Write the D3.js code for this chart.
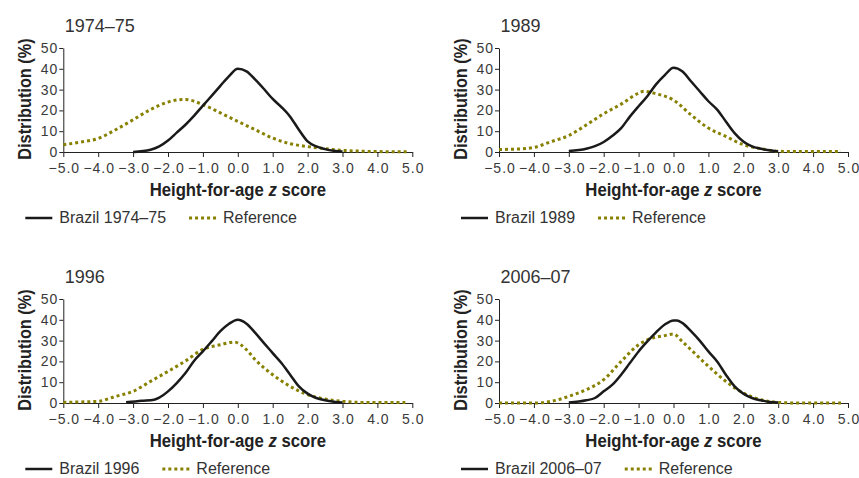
<!DOCTYPE html>
<html>
<head>
<meta charset="utf-8">
<script src="https://cdn.jsdelivr.net/npm/d3@7"></script>
<style>
  body { margin: 0; background: #fff; }
  .axis path, .axis line { stroke: #222; stroke-width: 1; }
</style>
</head>
<body>
<script>
// panel titles and legend labels
var titles = ["1974–75", "1989", "1996", "2006–07"];
var brazilLabels = ["Brazil 1974–75", "Brazil 1989", "Brazil 1996", "Brazil 2006–07"];

var zTicks = [-5, -4, -3, -2, -1, 0, 1, 2, 3, 4, 5];
var pctTicks = [0, 10, 20, 30, 40, 50];

// [z score, distribution %]
var brazil7475 = [[-3, 0], [-2.5, 1.1], [-2.25, 2.7], [-2, 5.5], [-1.75, 9.3], [-1.5, 13.1], [-1.25, 17.5], [-1, 22.3],
  [-0.75, 27], [-0.5, 31.8], [-0.25, 36.5], [0, 40], [0.25, 38.8], [0.5, 34.8], [0.75, 30.3], [1, 25.5],
  [1.25, 21.6], [1.5, 17], [1.75, 10.7], [2, 5.1], [2.25, 2.7], [2.5, 1.4], [2.75, 0.6], [3, 0.2]];
var ref7475 = [[-5, 3.5], [-4.5, 4.8], [-4, 6.5], [-3.5, 10.7], [-3, 15.5], [-2.5, 20.4], [-2, 24], [-1.6, 25.2],
  [-1.5, 25.2], [-1, 22.8], [-0.5, 18.8], [0, 14.7], [0.5, 10.7], [1, 6.7], [1.5, 4], [2, 2.6], [2.5, 1.6],
  [3, 0.8], [3.5, 0.4], [4, 0.2], [4.5, 0.1], [4.85, 0.1]];

var brazil1989 = [[-3, 0.5], [-2.5, 1.6], [-2.25, 2.8], [-2, 4.8], [-1.75, 7.8], [-1.5, 11.5], [-1.25, 17], [-1, 22],
  [-0.75, 26.8], [-0.5, 32.5], [-0.25, 37], [0, 40.5], [0.25, 38.8], [0.5, 34], [0.75, 29.2], [1, 24.4],
  [1.25, 20.4], [1.5, 14.7], [1.75, 9.1], [2, 5.1], [2.25, 2.7], [2.5, 1.6], [2.75, 0.8], [3, 0.2]];
var ref1989 = [[-5, 1.2], [-4.5, 1.4], [-4, 2.2], [-3.5, 5], [-3, 7.9], [-2.5, 13], [-2, 18.4], [-1.5, 23],
  [-1, 28.3], [-0.85, 29.2], [-0.5, 28], [0, 25], [0.5, 17.9], [1, 11.5], [1.5, 7.5], [2, 3.5], [2.5, 1.6],
  [3, 0.4], [3.5, 0.2], [4, 0.2], [4.5, 0.2], [4.8, 0.2]];

var brazil1996 = [[-3.2, 0.3], [-2.75, 1.1], [-2.4, 1.6], [-2.25, 2.6], [-2, 5.6], [-1.75, 9.6], [-1.5, 14.4],
  [-1.25, 20.3], [-1, 24.8], [-0.75, 29.6], [-0.5, 34.5], [-0.25, 38.1], [0, 40], [0.25, 38.1], [0.5, 33.7],
  [0.75, 28.8], [1, 24], [1.25, 19.2], [1.5, 13.6], [1.75, 8], [2, 4.5], [2.25, 2.4], [2.5, 1.3], [2.75, 0.6], [3, 0.2]];
var ref1996 = [[-5, 0.3], [-4.5, 0.5], [-4, 0.8], [-3.5, 3.2], [-3, 5.6], [-2.5, 10.4], [-2, 15.2], [-1.5, 20.2],
  [-1, 25.8], [-0.5, 28], [-0.1, 29.3], [0.25, 25.6], [0.5, 20.8], [1, 13.6], [1.5, 8], [2, 4], [2.5, 1.9],
  [3, 0.8], [3.5, 0.3], [4, 0.3], [4.5, 0.3], [4.8, 0.3]];

var brazil2006 = [[-3, 0.2], [-2.5, 1.3], [-2.25, 2.4], [-2, 5.6], [-1.75, 8.8], [-1.5, 13.6], [-1.25, 19.2], [-1, 24.8],
  [-0.75, 29.6], [-0.5, 34], [-0.25, 37.7], [0, 39.7], [0.1, 39.7], [0.25, 38.5], [0.5, 34.5], [0.75, 30],
  [1, 24.8], [1.25, 20], [1.5, 13.6], [1.75, 8], [2, 4.5], [2.25, 2.4], [2.5, 1.3], [2.75, 0.5], [3, 0.2]];
var ref2006 = [[-5, 0], [-4, 0], [-3.5, 0.8], [-3, 3.2], [-2.5, 6.4], [-2, 11.2], [-1.5, 20], [-1, 28],
  [-0.75, 30.4], [-0.5, 31.7], [-0.25, 32.4], [0, 33.2], [0.25, 29.6], [0.5, 25.6], [1, 17.6], [1.5, 10.4],
  [2, 4.8], [2.5, 1.6], [3, 0.3], [3.5, 0], [4, 0], [4.8, 0]];

var brazilSeries = [brazil7475, brazil1989, brazil1996, brazil2006];
var refSeries = [ref7475, ref1989, ref1996, ref2006];

var FONT = "'Liberation Sans', Arial, sans-serif";
var OLIVE = "#878000";

var cols = [63.3, 499];
var rows = [152, 403];
var plotW = 349, plotH = 104;

var svg = d3.select("body").append("svg")
    .attr("width", 859)
    .attr("height", 478);

titles.forEach(function (t, i) {
    var left = cols[i % 2];
    var base = rows[Math.floor(i / 2)];

    var x = d3.scaleLinear().domain([-5, 5]).range([left, left + plotW]);
    var y = d3.scaleLinear().domain([0, 50]).range([base, base - plotH]);

    var g = svg.append("g");

    // axes
    g.append("g")
        .attr("class", "axis")
        .attr("transform", "translate(0," + base + ")")
        .call(d3.axisBottom(x).tickValues(zTicks).tickFormat(d3.format(".1f")).tickSize(5).tickSizeOuter(0).tickPadding(6))
        .attr("font-family", FONT)
        .attr("font-size", 14)
        .selectAll("text")
            .attr("fill", "#3a3a3a")
            .attr("letter-spacing", 1)
            .attr("dx", 0.5);

    g.append("g")
        .attr("class", "axis")
        .attr("transform", "translate(" + left + ",0)")
        .call(d3.axisLeft(y).tickValues(pctTicks).tickSize(4).tickSizeOuter(0).tickPadding(1))
        .attr("font-family", FONT)
        .attr("font-size", 14)
        .selectAll("text")
            .attr("fill", "#3a3a3a")
            .attr("letter-spacing", 1);

    var line = d3.line()
        .curve(d3.curveMonotoneX)
        .x(function (d) { return x(d[0]); })
        .y(function (d) { return y(d[1]); });

    g.append("path")
        .datum(refSeries[i])
        .attr("d", line)
        .attr("fill", "none")
        .attr("stroke", OLIVE)
        .attr("stroke-width", 3)
        .attr("stroke-dasharray", "3,3");

    g.append("path")
        .datum(brazilSeries[i])
        .attr("d", line)
        .attr("fill", "none")
        .attr("stroke", "#1a1a1a")
        .attr("stroke-width", 2.5)
        .attr("stroke-linejoin", "round");

    // titles
    g.append("text")
        .attr("x", left + 1.5)
        .attr("y", base - 120)
        .attr("font-family", FONT)
        .attr("font-size", 18)
        .attr("fill", "#333")
        .text(t);

    // bold condensed look: squeeze bold text horizontally
    var xt = g.append("text")
        .attr("transform", "translate(" + (left + plotW / 2) + "," + (base + 44) + ") scale(0.88,1)")
        .attr("text-anchor", "middle")
        .attr("font-family", FONT)
        .attr("font-weight", "bold")
        .attr("font-size", 19)
        .attr("fill", "#222");
    xt.append("tspan").text("Height-for-age ");
    xt.append("tspan").attr("font-style", "italic").text("z");
    xt.append("tspan").text(" score");

    g.append("text")
        .attr("transform", "translate(" + (left - 32) + "," + (base - 53) + ") rotate(-90) scale(0.86,1)")
        .attr("text-anchor", "middle")
        .attr("font-family", FONT)
        .attr("font-weight", "bold")
        .attr("font-size", 19)
        .attr("fill", "#222")
        .text("Distribution (%)");

    // legend
    var ly = base + 71;
    g.append("line")
        .attr("x1", left - 38).attr("x2", left - 11)
        .attr("y1", ly - 5).attr("y2", ly - 5)
        .attr("stroke", "#1a1a1a").attr("stroke-width", 2.5);
    var lt = g.append("text")
        .attr("x", left - 4)
        .attr("y", ly)
        .attr("font-family", FONT)
        .attr("font-size", 16)
        .attr("fill", "#333")
        .text(brazilLabels[i]);
    var endX = left - 4 + lt.node().getComputedTextLength() + 23;
    g.append("line")
        .attr("x1", endX).attr("x2", endX + 27)
        .attr("y1", ly - 5).attr("y2", ly - 5)
        .attr("stroke", OLIVE).attr("stroke-width", 3)
        .attr("stroke-dasharray", "3,3");
    g.append("text")
        .attr("x", endX + 34)
        .attr("y", ly)
        .attr("font-family", FONT)
        .attr("font-size", 16)
        .attr("fill", "#333")
        .text("Reference");
});
</script>
</body>
</html>
